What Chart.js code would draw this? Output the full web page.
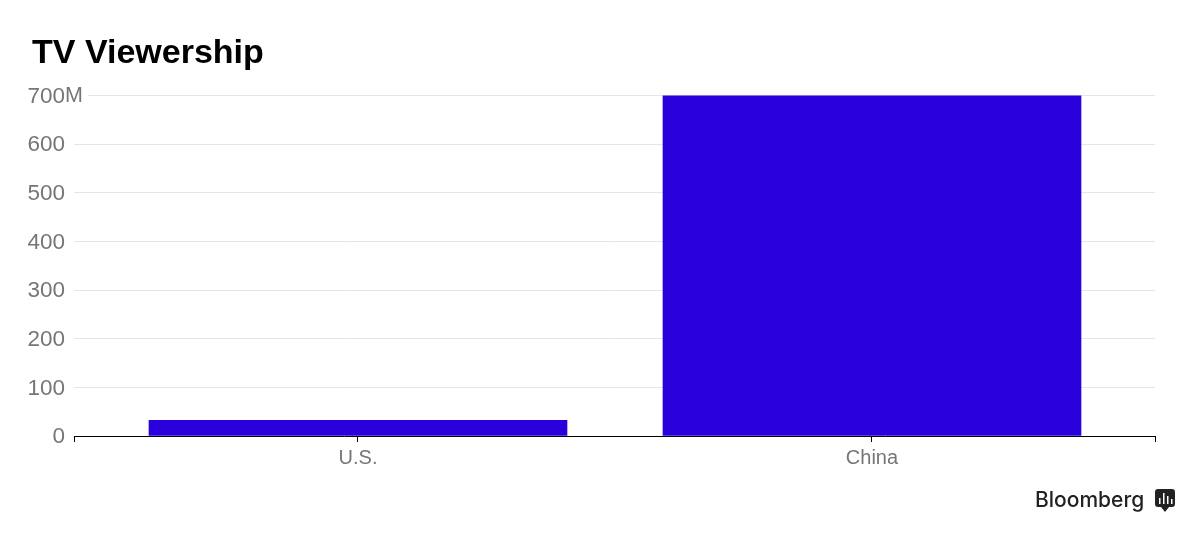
<!DOCTYPE html>
<html>
<head>
<meta charset="utf-8">
<title>TV Viewership</title>
<script src="https://cdn.jsdelivr.net/npm/chart.js@4"></script>
<style>
  html, body { margin: 0; padding: 0; background: #fff; }
  canvas { display: block; }
</style>
</head>
<body>
<canvas id="myChart" width="1200" height="538"></canvas>
<script>
const categories = ["U.S.", "China"];
const viewers = [32, 700];
const yTicks = [0, 100, 200, 300, 400, 500, 600, 700];
const chartTitle = "TV Viewership";
const brand = "Bloomberg";

const grey = "#767676";
const labelFont = "Liberation Sans";

// the "M" hangs off the top tick, the grid line starts after it
const unitAndLogo = {
  id: "unitAndLogo",
  beforeDraw(chart) {
    // tick labels get clipped to the scale box otherwise
    chart.scales.y.left = 0;
  },
  afterDraw(chart) {
    const c = chart.ctx;
    const y = chart.scales.y.getPixelForValue(700);
    c.save();
    c.fillStyle = "#fff";
    c.fillRect(chart.chartArea.left - 1, y - 2, 15, 4);
    c.fillStyle = grey;
    c.font = "21.5px '" + labelFont + "'";
    c.textAlign = "left";
    c.textBaseline = "middle";
    c.fillText("M", 65, y + 1);

    c.fillStyle = "#222";
    c.font = "500 21px Inter";
    c.textBaseline = "alphabetic";
    c.fillText(brand, 1035, 507);

    c.beginPath();
    c.roundRect(1155, 489, 20, 18, 3);
    c.moveTo(1161, 507);
    c.lineTo(1165, 512);
    c.lineTo(1169, 507);
    c.fill();
    c.fillStyle = "#fff";
    [[1159, 498, 6], [1163, 493, 11], [1167, 496, 8], [1171, 499, 5]].forEach(b => c.fillRect(b[0], b[1], 1.5, b[2]));
    c.restore();
  }
};

new Chart(document.getElementById("myChart"), {
  type: "bar",
  data: {
    datasets: [{
      data: categories.map((name, i) => ({ x: i, y: viewers[i] })),
      backgroundColor: "#2a00dc",
      borderWidth: 0,
      barThickness: 418
    }]
  },
  options: {
    responsive: false,
    animation: false,
    layout: { padding: { left: 32, right: 45, top: 0, bottom: 0 } },
    plugins: {
      legend: { display: false },
      tooltip: { enabled: false },
      title: {
        display: true,
        text: chartTitle,
        align: "start",
        color: "#000",
        font: { family: labelFont, size: 34, weight: "bold", lineHeight: 1.2 },
        padding: { top: 33, bottom: 21.6 }
      }
    },
    scales: {
      x: {
        type: "linear",
        offset: false,
        min: -0.5525,
        max: 1.5506,
        afterBuildTicks: s => { s.ticks = [-0.5525, 0, 1, 1.5506].map(v => ({ value: v })); },
        afterFit: s => { s.height = 102; },
        grid: { offset: false, drawOnChartArea: false, drawTicks: true, tickLength: 6, tickColor: "#000" },
        border: { color: "#000", width: 1, z: 1 },
        ticks: {
          color: grey,
          font: { family: labelFont, size: 20 },
          padding: 4,
          maxRotation: 0,
          autoSkip: false,
          callback: v => categories[v] || ""
        }
      },
      y: {
        min: 0,
        max: 700,
        afterBuildTicks: s => { s.ticks = yTicks.map(v => ({ value: v })); },
        afterFit: s => { s.width = 42; },
        grid: { color: "#e5e5e5", drawTicks: false },
        border: { display: false },
        ticks: {
          color: grey,
          font: { family: labelFont, size: 22.5 },
          padding: 9,
          labelOffset: 1
        }
      }
    }
  },
  plugins: [unitAndLogo]
});
</script>
</body>
</html>
